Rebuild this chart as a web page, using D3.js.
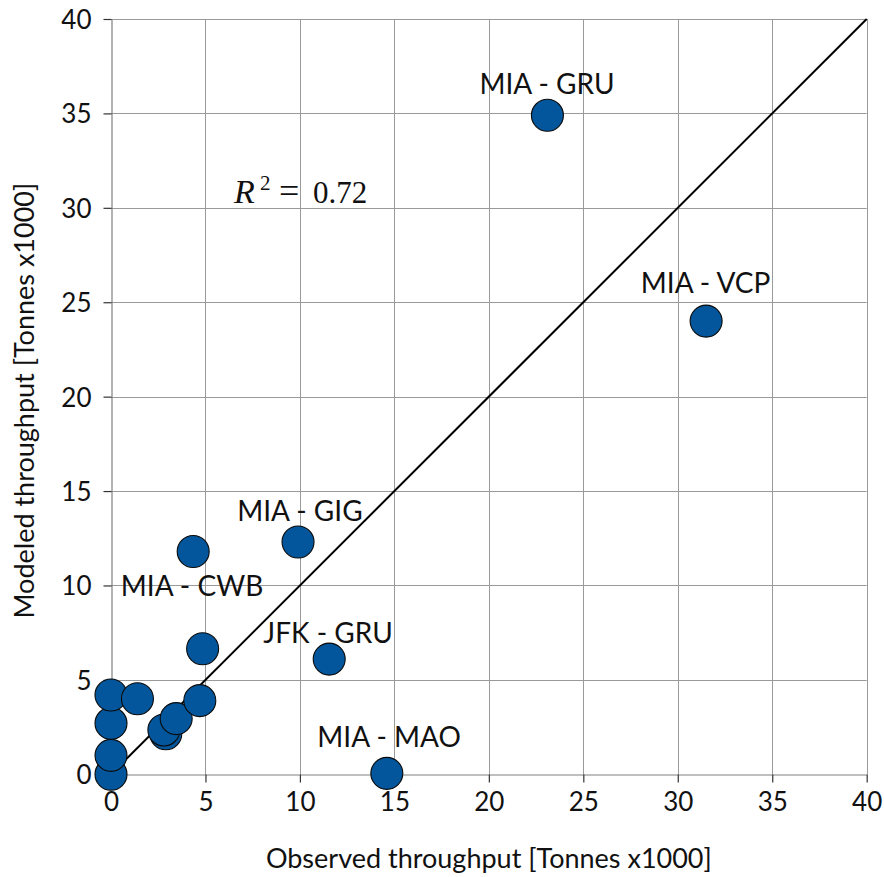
<!DOCTYPE html>
<html>
<head>
<meta charset="utf-8">
<script src="https://cdn.jsdelivr.net/npm/d3@7"></script>
<style>
  html, body { margin: 0; padding: 0; background: #fff; }
  svg { display: block; }
  .tick text { font-family: Lato, "Open Sans", sans-serif; }
</style>
</head>
<body>
<svg id="chart" width="884" height="877"></svg>
<script>
// Observed vs modeled route throughput (thousands of tonnes)
const observed = [0, 0, 0, 0, 1.4, 2.9, 2.8, 3.45, 4.7, 4.85, 4.35, 9.9, 11.55, 14.6, 23.1, 31.5];
const modeled  = [0, 1.0, 2.7, 4.2, 4.0, 2.15, 2.35, 2.95, 3.9, 6.65, 11.8, 12.3, 6.1, 0.05, 34.9, 24.0];

// Route annotations: text anchored (centre, baseline) in data units
const labelText = ["MIA - GRU", "MIA - VCP", "MIA - GIG", "JFK - GRU", "MIA - MAO", "MIA - CWB"];
const labelX    = [23.08, 31.47, 10.0, 11.49, 14.72, 4.29];
const labelY    = [36.03, 25.49, 13.42, 6.95, 1.45, 9.44];

const tickValues = [0, 5, 10, 15, 20, 25, 30, 35, 40];
const rSquared = "0.72";

const W = 884, H = 877;
const margin = { top: 19, right: 17.3, bottom: 102.7, left: 111 };
const svg = d3.select("#chart");

const x = d3.scaleLinear().domain([0, 40]).range([margin.left, W - margin.right]);
const y = d3.scaleLinear().domain([0, 40]).range([H - margin.bottom, margin.top]);

const font = "Lato, 'Open Sans', sans-serif";
const serif = "'Liberation Serif', 'DejaVu Serif', serif";

// grid
const grid = svg.append("g").attr("stroke", "#9a9a9a").attr("stroke-width", 1);
grid.selectAll("line.v").data(tickValues.slice(1)).join("line")
  .attr("x1", d => Math.round(x(d)) + 0.5).attr("x2", d => Math.round(x(d)) + 0.5)
  .attr("y1", y(0)).attr("y2", y(40));
grid.selectAll("line.h").data(tickValues.slice(1)).join("line")
  .attr("y1", d => Math.round(y(d)) + 0.5).attr("y2", d => Math.round(y(d)) + 0.5)
  .attr("x1", x(0)).attr("x2", x(40));

// axes
const xAxis = svg.append("g")
  .attr("transform", `translate(0,${Math.round(y(0)) + 0.5})`)
  .call(d3.axisBottom(x).tickValues(tickValues).tickSize(8).tickPadding(10).tickSizeOuter(0));
const yAxis = svg.append("g")
  .attr("transform", `translate(${Math.round(x(0)) + 0.5},0)`)
  .call(d3.axisLeft(y).tickValues(tickValues).tickSize(8).tickPadding(12).tickSizeOuter(0));
[xAxis, yAxis].forEach(g => {
  g.select(".domain").attr("stroke", "#808080").attr("stroke-width", 1.2);
  g.selectAll(".tick line").attr("stroke", "#333").attr("stroke-width", 1.2);
  g.selectAll(".tick text").attr("font-size", 26).attr("fill", "#111");
});
yAxis.selectAll(".tick text").attr("dy", "0.36em");

// 1:1 reference line
svg.append("line")
  .attr("x1", x(0)).attr("y1", y(0)).attr("x2", x(40)).attr("y2", y(40))
  .attr("stroke", "#000").attr("stroke-width", 2);

// points
svg.append("g").selectAll("circle").data(observed.map((o, i) => [o, modeled[i]])).join("circle")
  .attr("cx", d => x(d[0])).attr("cy", d => y(d[1])).attr("r", 16)
  .attr("fill", "#03569b").attr("stroke", "#0a0a0a").attr("stroke-width", 1.1);

// route labels
svg.append("g").selectAll("text").data(labelText).join("text")
  .attr("x", (d, i) => x(labelX[i])).attr("y", (d, i) => y(labelY[i]))
  .attr("text-anchor", "middle").attr("font-family", font).attr("font-size", 28)
  .attr("fill", "#111").text(d => d);

// R^2 annotation, set in math style
const r2 = svg.append("g").attr("font-family", serif).attr("fill", "#111");
r2.append("text").attr("x", 234).attr("y", 203).attr("font-size", 34).attr("font-style", "italic").text("R");
r2.append("text").attr("x", 260).attr("y", 190).attr("font-size", 21).text("2");
r2.append("text").attr("x", 279).attr("y", 203).attr("font-size", 36).text("=");
r2.append("text").attr("x", 313).attr("y", 203).attr("font-size", 31).text(rSquared);

// axis titles
svg.append("text").attr("x", (x(0) + x(40)) / 2).attr("y", 868)
  .attr("text-anchor", "middle").attr("font-family", font).attr("font-size", 27).attr("fill", "#111")
  .text("Observed throughput [Tonnes x1000]");
svg.append("text")
  .attr("transform", `translate(34,${(y(0) + y(40)) / 2 + 4}) rotate(-90)`)
  .attr("text-anchor", "middle").attr("font-family", font).attr("font-size", 27).attr("fill", "#111")
  .text("Modeled throughput [Tonnes x1000]");
</script>
</body>
</html>
